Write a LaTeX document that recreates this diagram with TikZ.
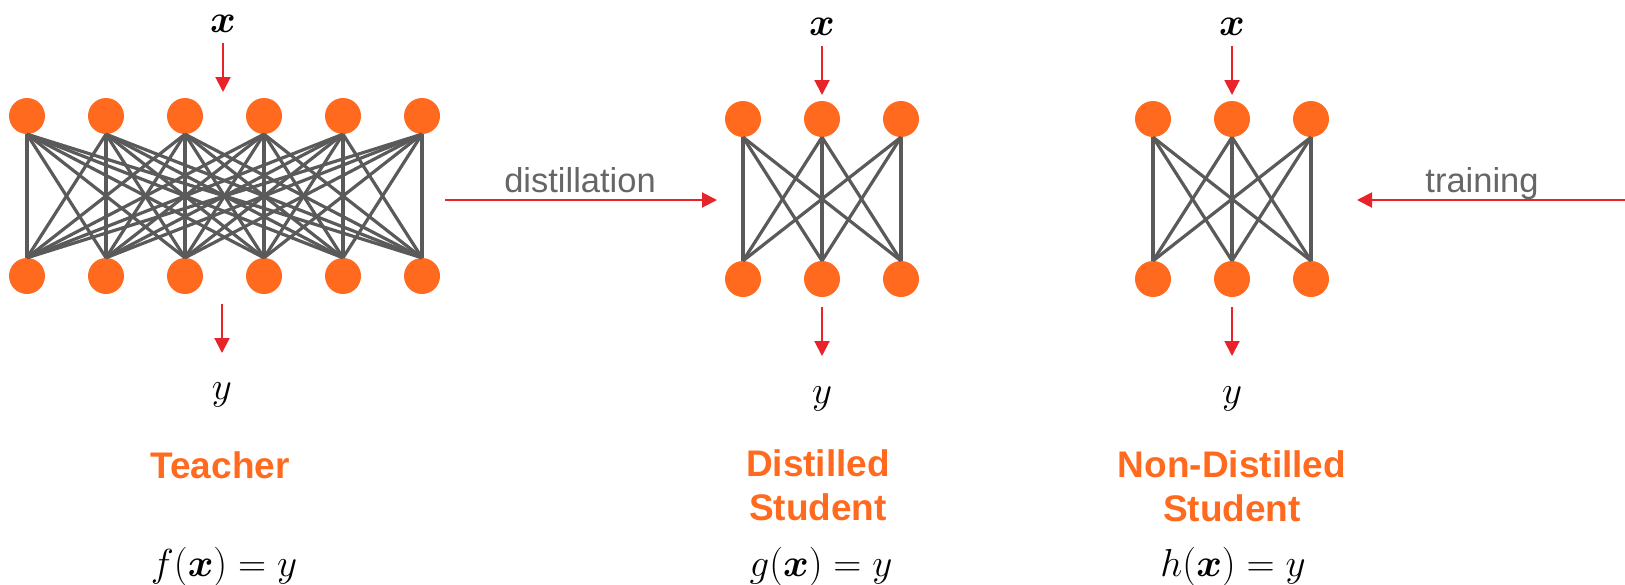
\RequirePackage{fix-cm}
\documentclass[tikz,border=0pt]{standalone}
\usepackage{fontspec}
\setmainfont{Liberation Sans}
\usepackage{amsmath,bm}
\usetikzlibrary{arrows.meta}
\definecolor{dorange}{HTML}{FF6A1E}
\definecolor{linkgray}{HTML}{5A5A5A}
\definecolor{arrred}{HTML}{E8242A}
\definecolor{txtgray}{HTML}{666666}
\begin{document}
\begin{tikzpicture}[x=1pt,y=-1pt,
  neuron/.style={circle,fill=dorange,minimum size=36pt,inner sep=0pt},
  link/.style={draw=linkgray,line width=3.2pt},
  flow/.style={draw=arrred,line width=2pt,-{Triangle[width=15pt,length=15pt]}},
  mathlbl/.style={inner sep=0pt,anchor=base,font=\fontsize{39}{40}\selectfont},
  lbl/.style={inner sep=0pt,text=dorange,align=center,font=\fontsize{37}{44}\selectfont\bfseries},
  graylbl/.style={inner sep=0pt,anchor=base,text=txtgray,font=\fontsize{34.5}{40}\selectfont}]
\useasboundingbox (0,0) rectangle (1625,584);

% Teacher network
\foreach \i in {0,...,5} {
  \node[neuron] (T\i) at ({27+79*\i},116) {};
  \node[neuron] (B\i) at ({27+79*\i},276) {};
}
\foreach \i in {0,...,5} \foreach \j in {0,...,5} \draw[link] (T\i.south) -- (B\j.north);

% Distilled student
\foreach \i in {0,1,2} {
  \node[neuron] (DT\i) at ({743+79*\i},119) {};
  \node[neuron] (DB\i) at ({743+79*\i},279) {};
}
\foreach \i in {0,1,2} \foreach \j in {0,1,2} \draw[link] (DT\i.south) -- (DB\j.north);

% Non-distilled student
\foreach \i in {0,1,2} {
  \node[neuron] (NT\i) at ({1153+79*\i},119) {};
  \node[neuron] (NB\i) at ({1153+79*\i},279) {};
}
\foreach \i in {0,1,2} \foreach \j in {0,1,2} \draw[link] (NT\i.south) -- (NB\j.north);

% inputs
\node[mathlbl] (tx) at (223,32) {$\bm{x}$};
\node[mathlbl] (dx) at (822,35) {$\bm{x}$};
\node[mathlbl] (nx) at (1232,35) {$\bm{x}$};
\coordinate (txa) at (223,43); \coordinate (txb) at (223,92);
\coordinate (dxa) at (822,46); \coordinate (dxb) at (822,95);
\coordinate (nxa) at (1232,46); \coordinate (nxb) at (1232,95);
\draw[flow] (txa) -- (txb);
\draw[flow] (dxa) -- (dxb);
\draw[flow] (nxa) -- (nxb);

% outputs
\coordinate (tya) at (222,304); \coordinate (tyb) at (222,353);
\coordinate (dya) at (822,307); \coordinate (dyb) at (822,356);
\coordinate (nya) at (1232,307); \coordinate (nyb) at (1232,356);
\draw[flow] (tya) -- (tyb);
\draw[flow] (dya) -- (dyb);
\draw[flow] (nya) -- (nyb);
\node[mathlbl] (ty) at (222,399) {$y$};
\node[mathlbl] (dy) at (822,403) {$y$};
\node[mathlbl] (ny) at (1232,403) {$y$};

% distillation / training
\coordinate (da) at (445,200); \coordinate (db) at (717,200);
\draw[flow] (da) -- (db);
\node[graylbl] (dlbl) at (580,192) {distillation};
\coordinate (ra) at (1625,200); \coordinate (rb) at (1357,200);
\draw[flow] (ra) -- (rb);
\node[graylbl] (rlbl) at (1482,192) {training};

% titles
\node[lbl] (tl) at (220,465) {Teacher};
\node[lbl] (dl) at (818,485) {Distilled\\Student};
\node[lbl] (nl) at (1232,486) {Non-Distilled\\Student};

% functions
\node[mathlbl] (tf) at (224,576) {$f(\bm{x}) = y$};
\node[mathlbl] (df) at (821,576) {$g(\bm{x}) = y$};
\node[mathlbl] (nf) at (1233,576) {$h(\bm{x}) = y$};
\end{tikzpicture}
\end{document}
